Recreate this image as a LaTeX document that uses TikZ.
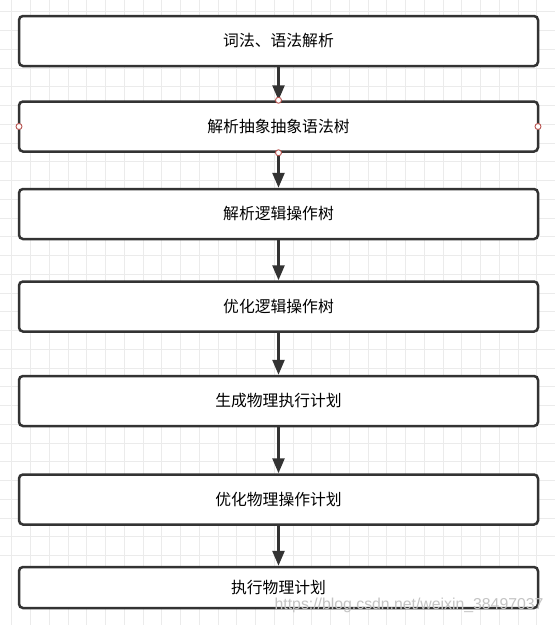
\documentclass[tikz,border=0pt]{standalone}
\usepackage{fontspec}
\newfontfamily\cjk{Noto Sans CJK SC}
\newfontfamily\wmfont{Liberation Sans}
\usepackage{tikz}
\usetikzlibrary{arrows.meta,positioning}
\definecolor{ink}{HTML}{333333}
\definecolor{gridgray}{HTML}{EBEBEB}
\definecolor{pin}{HTML}{B85450}
\definecolor{mark}{HTML}{C4C4C4}

\begin{document}
\begin{tikzpicture}[
  x=1pt,y=-1pt,
  stage/.style={draw=ink,line width=2.5pt,rounded corners=4pt,fill=white,align=center,
              minimum height=50pt,minimum width=519pt,inner sep=0pt,font=\cjk\fontsize{15.8pt}{17pt}\selectfont},
  pinpt/.style={circle,draw=pin,fill=white,line width=0.9pt,minimum size=6pt,inner sep=0pt},
  arr/.style={-{Triangle[length=15pt,width=12pt]},line width=2.5pt,color=ink}
]
\useasboundingbox (0,0) rectangle (555,625);
\fill[white] (0,0) rectangle (555,625);
% background grid
\foreach \k in {0,...,29} {
  \draw[gridgray,line width=0.8pt] (11.7+18.75*\k,0) -- (11.7+18.75*\k,625);
  \draw[gridgray,line width=0.8pt] (0,11.7+18.75*\k) -- (555,11.7+18.75*\k);
}
\node[stage] (lex) at (278.5,41) {词法、语法解析};
\node[stage,below=33pt of lex] (ast) {解析抽象抽象语法树};
\node[stage,below=35pt of ast] (logic) {解析逻辑操作树};
\node[stage,below=40pt of logic] (optlogic) {优化逻辑操作树};
\node[stage,below=42pt of optlogic] (phys) {生成物理执行计划};
\node[stage,below=46pt of phys] (optphys) {优化物理操作计划};
\node[stage,minimum height=41pt,below=40pt of optphys] (run) {执行物理计划};
\draw[arr] (lex)--(ast);
\draw[arr] (ast)--(logic);
\draw[arr] (logic)--(optlogic);
\draw[arr] (optlogic)--(phys);
\draw[arr] (phys)--(optphys);
\draw[arr] (optphys)--(run);
% connection points
\node[pinpt] (pn) at (ast.north) {};
\node[pinpt] (ps) at (ast.south) {};
\node[pinpt] (pw) at ([xshift=1.25pt]ast.west) {};
\node[pinpt] (pe) at ([xshift=-1.25pt]ast.east) {};
\node[text=mark,font=\wmfont\fontsize{15.8pt}{17pt}\selectfont,anchor=east] (url) at (547,605) {https://blog.csdn.net/weixin\_38497037};
\end{tikzpicture}
\end{document}
